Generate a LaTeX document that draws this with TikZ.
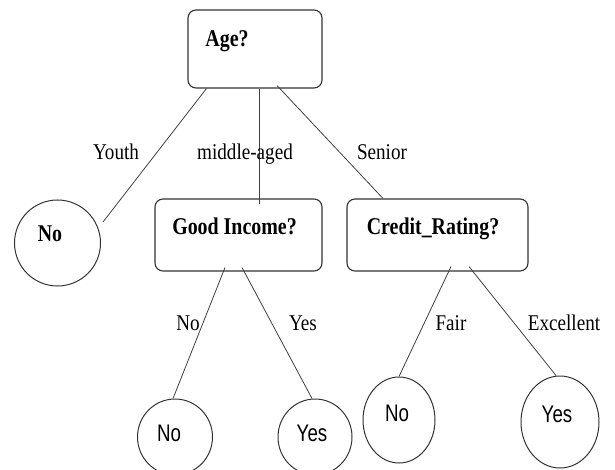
\documentclass[tikz,border=0pt]{standalone}
\usepackage{fontspec}
\usepackage{graphicx}
\setmainfont{Liberation Serif}
\newfontfamily\arialf{Liberation Sans}
\usetikzlibrary{shapes.geometric,calc}
\newcommand\sqz[2]{\scalebox{#1}[1]{#2}}
\begin{document}
\begin{tikzpicture}[x=1pt,y=-1pt,
  boxst/.style={draw=black!80, line width=1.1pt, rounded corners=8pt, inner sep=0pt},
  leafst/.style={draw=black!80, line width=1pt, ellipse, inner sep=0pt},
  edgest/.style={draw=black!75, line width=0.8pt},
  qtext/.style={font=\fontsize{24}{28}\selectfont\bfseries, inner sep=0pt, anchor=base},
  lbl/.style={font=\fontsize{22.5}{26}\selectfont, inner sep=0pt, anchor=base},
  leaftxt/.style={font=\arialf\fontsize{24}{28}\selectfont, inner sep=0pt, anchor=base}]
\useasboundingbox (0,0) rectangle (615,470);
% boxes
\node[boxst, minimum width=134pt, minimum height=78pt] (age) at (255,49) {};
\node[boxst, minimum width=167pt, minimum height=72pt] (gi) at (238.5,235) {};
\node[boxst, minimum width=181pt, minimum height=72pt] (cr) at (437.5,235) {};
% leaves
\node[leafst, minimum width=86pt, minimum height=86pt] (leafA) at (57.5,243) {};
\node[leafst, minimum width=75pt, minimum height=76pt] (ginol) at (175,437) {};
\node[leafst, minimum width=74pt, minimum height=76pt] (giyes) at (315,437) {};
\node[leafst, minimum width=72pt, minimum height=86pt] (crno) at (399,420) {};
\node[leafst, minimum width=78pt, minimum height=92pt] (cryes) at (560,422) {};
% texts in nodes
\node[qtext] (agetxt) at (227,47) {\sqz{0.83}{Age?}};
\node[qtext] (gitxt) at (234.5,235) {\sqz{0.83}{Good Income?}};
\node[qtext] (crtxt) at (433,235) {\sqz{0.83}{Credit\_Rating?}};
\node[qtext] (leafAtxt) at (50,241) {\sqz{0.83}{No}};
\node[leaftxt] (ginoltxt) at (169,441) {\sqz{0.78}{No}};
\node[leaftxt] (giyestxt) at (312,441) {\sqz{0.78}{Yes}};
\node[leaftxt] (crnotxt) at (397,421) {\sqz{0.78}{No}};
\node[leaftxt] (cryestxt) at (557,422) {\sqz{0.78}{Yes}};
% connectors
\draw[edgest] ($(age.south west)+(19,0)$) -- ($(leafA.center)+(45.5,-21)$);
\draw[edgest] ($(age.south)+(4,0)$) -- ($(gi.north)+(20.5,6)$);
\draw[edgest] ($(age.south)+(22,-3)$) -- ($(cr.north)+(-54.5,0)$);
\draw[edgest] ($(gi.south)+(-13.5,-4)$) -- ($(ginol.north)+(-2,0)$);
\draw[edgest] ($(gi.south)+(3.5,-4)$) -- ($(giyes.north)+(-3,0)$);
\draw[edgest] ($(cr.south)+(13.5,-5)$) -- (crno.north);
\draw[edgest] ($(cr.south)+(31.5,-5)$) -- ($(cryes.north)+(-4,0)$);
% edge labels
\node[lbl] (lyouth) at (116,160) {\sqz{0.85}{Youth}};
\node[lbl] (lmid) at (245,160) {\sqz{0.85}{middle-aged}};
\node[lbl] (lsen) at (382,160) {\sqz{0.85}{Senior}};
\node[lbl] (lno) at (188,330) {\sqz{0.85}{No}};
\node[lbl] (lyes) at (303,330) {\sqz{0.85}{Yes}};
\node[lbl] (lfair) at (451,330) {\sqz{0.85}{Fair}};
\node[lbl] (lexc) at (564,330) {\sqz{0.85}{Excellent}};
\end{tikzpicture}
\end{document}
